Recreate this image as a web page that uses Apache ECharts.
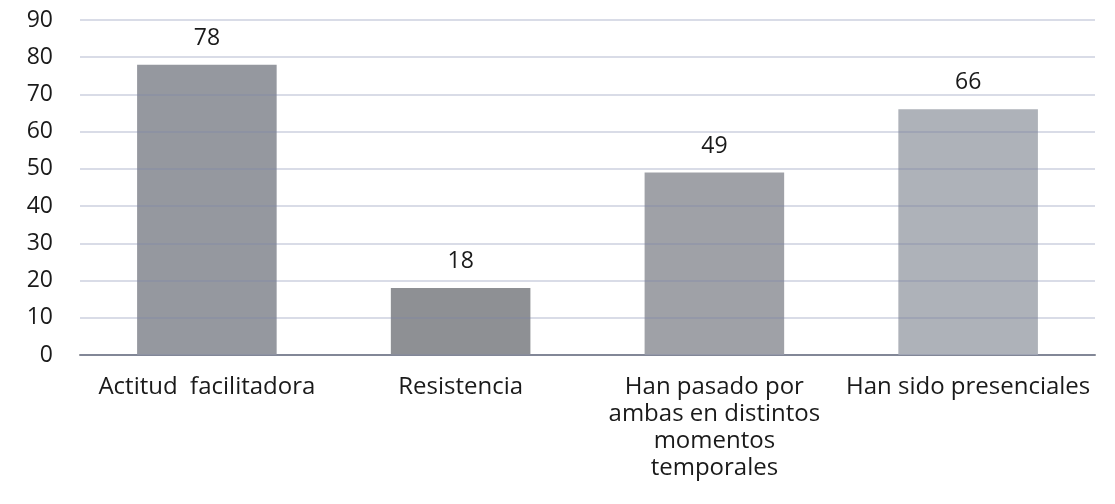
<!DOCTYPE html>
<html><head><meta charset="utf-8">
<script src="https://cdn.jsdelivr.net/npm/echarts@6/dist/echarts.min.js"></script>
<style>html,body{margin:0;padding:0;background:#fff}#c{width:1115px;height:504px}</style>
</head><body><div id="c"></div>
<script>
const categories = ["Actitud  facilitadora", "Resistencia", "Han pasado por\nambas en distintos\nmomentos\ntemporales", "Han sido presenciales"];
const values = [78, 18, 49, 66];
const barColors = ["#95989f", "#8e9094", "#9fa1a7", "#aeb2b9"];
const yTicks = { min: 0, max: 90, interval: 10 };

const chart = echarts.init(document.getElementById('c'), null, {renderer: 'canvas'});
const font = "'Open Sans', 'Liberation Sans', sans-serif";
chart.setOption({
  animation: false,
  backgroundColor: '#fff',
  grid: { left: 80, right: 20, top: 20, bottom: 149, containLabel: false },
  xAxis: {
    type: 'category', data: categories,
    axisLine: { lineStyle: { color: '#868990', width: 2 } },
    axisTick: { show: false },
    axisLabel: { color: '#1a1a1a', fontSize: 24, fontFamily: font, margin: 19, lineHeight: 27, interval: 0 }
  },
  yAxis: {
    type: 'value', min: yTicks.min, max: yTicks.max, interval: yTicks.interval, z: 3,
    axisLine: { show: false }, axisTick: { show: false },
    splitLine: { lineStyle: { color: 'rgba(120,132,170,0.38)', width: 1.5 } },
    axisLabel: { color: '#1a1a1a', fontSize: 23, fontFamily: font, margin: 27 }
  },
  series: [{
    type: 'bar', barWidth: '55%',
    data: values.map((v, i) => ({ value: v, itemStyle: { color: barColors[i] } })),
    label: { show: true, position: 'top', distance: 15, color: '#1a1a1a', fontSize: 23, fontFamily: font }
  }]
});
</script></body></html>
